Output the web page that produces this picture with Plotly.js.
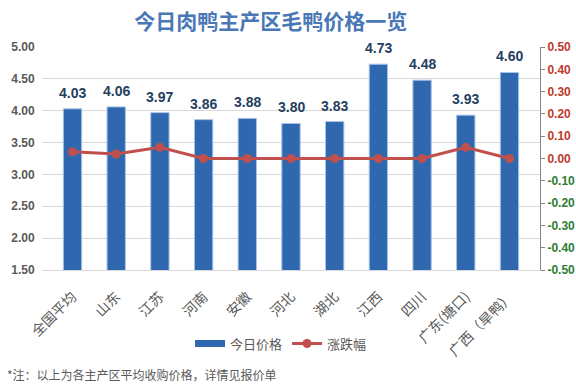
<!DOCTYPE html>
<html><head><meta charset="utf-8">
<script src="https://cdn.plot.ly/plotly-3.0.1.min.js"></script>
<style>body{margin:0;background:#fff}#c{width:576px;height:391px}</style>
</head><body><div id="c"></div>
<script>
const regions = ["全国平均","山东","江苏","河南","安徽","河北","湖北","江西","四川","广东(塘口)","广西（旱鸭）"];
const prices = [4.03,4.06,3.97,3.86,3.88,3.80,3.83,4.73,4.48,3.93,4.60];
const changes = [0.03,0.02,0.05,0.00,0.00,0.00,0.00,0.00,0.00,0.05,0.00];
const leftTicks = [1.5,2.0,2.5,3.0,3.5,4.0,4.5,5.0];
const rightTicks = [-0.5,-0.4,-0.3,-0.2,-0.1,0,0.1,0.2,0.3,0.4,0.5];
const cjk = '"Noto Sans CJK SC", "Noto Sans", sans-serif';
const num = '"Liberation Sans", Arial, sans-serif';

const rightText = rightTicks.map(v => {
  const c = v < 0 ? '#2e7d32' : '#c0392b';
  return '<span style="color:' + c + '">' + v.toFixed(2) + '</span>';
});

const data = [
  {type:'scatter', mode:'lines', name:'今日价格', x:[regions[0]], y:[null],
   line:{color:'#2f68ae', width:7}, hoverinfo:'skip'},
  {type:'bar', name:'今日价格', x:regions, y:prices, width:0.42, showlegend:false,
   marker:{color:'#2f68ae', line:{color:'#a9c4e6', width:1}}},
  {type:'scatter', mode:'lines+markers', name:'涨跌幅', x:regions, y:changes, yaxis:'y2',
   line:{color:'#c0504d', width:3}, marker:{color:'#c0504d', size:9}}
];

const labels = regions.map((r,i) => ({
  x:r, y:prices[i], xref:'x', yref:'y', text:prices[i].toFixed(2), showarrow:false,
  yanchor:'middle', yshift:16,
  font:{family:num, size:14, color:'#243f60', weight:'bold'}
}));

const layout = {
  width:576, height:391,
  margin:{l:42, r:36, t:47, b:121},
  paper_bgcolor:'#fff', plot_bgcolor:'#fff',
  font:{family:cjk, color:'#595959'},
  title:{text:'<b>今日肉鸭主产区毛鸭价格一览</b>', x:0.47, xanchor:'center', y:0.945, yanchor:'middle',
         font:{family:cjk, size:21, color:'#4a78b6'}},
  xaxis:{tickangle:-45, tickfont:{family:cjk, size:14, color:'#595959'}, showline:true, linecolor:'#d9d9d9',
         ticks:'', automargin:false, ticklabelstandoff:12},
  yaxis:{range:[1.5,5.0], tickvals:leftTicks, ticktext:leftTicks.map(v=>v.toFixed(2)),
         tickfont:{family:num, size:12, color:'#595959', weight:'bold'},
         gridcolor:'#d9d9d9', zeroline:false, showline:false, automargin:false, ticklen:4, tickcolor:'#fff', ticks:'outside'},
  yaxis2:{overlaying:'y', side:'right', range:[-0.5,0.5], tickvals:rightTicks, ticktext:rightText,
          tickfont:{family:num, size:12, weight:'bold'},
          showgrid:false, zeroline:false, showline:true, linecolor:'#868686', ticks:'outside', ticklen:4, tickcolor:'#868686', automargin:false},
  legend:{orientation:'h', x:0.48, xanchor:'center', y:-0.33, yanchor:'middle',
          font:{family:cjk, size:13, color:'#595959'}, itemwidth:30},
  showlegend:true,
  annotations:labels.concat([{text:'*注：以上为各主产区平均收购价格，详情见报价单', xref:'paper', yref:'paper',
                x:-0.074, y:-0.47, xanchor:'left', yanchor:'middle', showarrow:false,
                font:{family:cjk, size:12, color:'#595959'}}])
};
Plotly.newPlot('c', data, layout, {displayModeBar:false, staticPlot:true});
</script></body></html>
